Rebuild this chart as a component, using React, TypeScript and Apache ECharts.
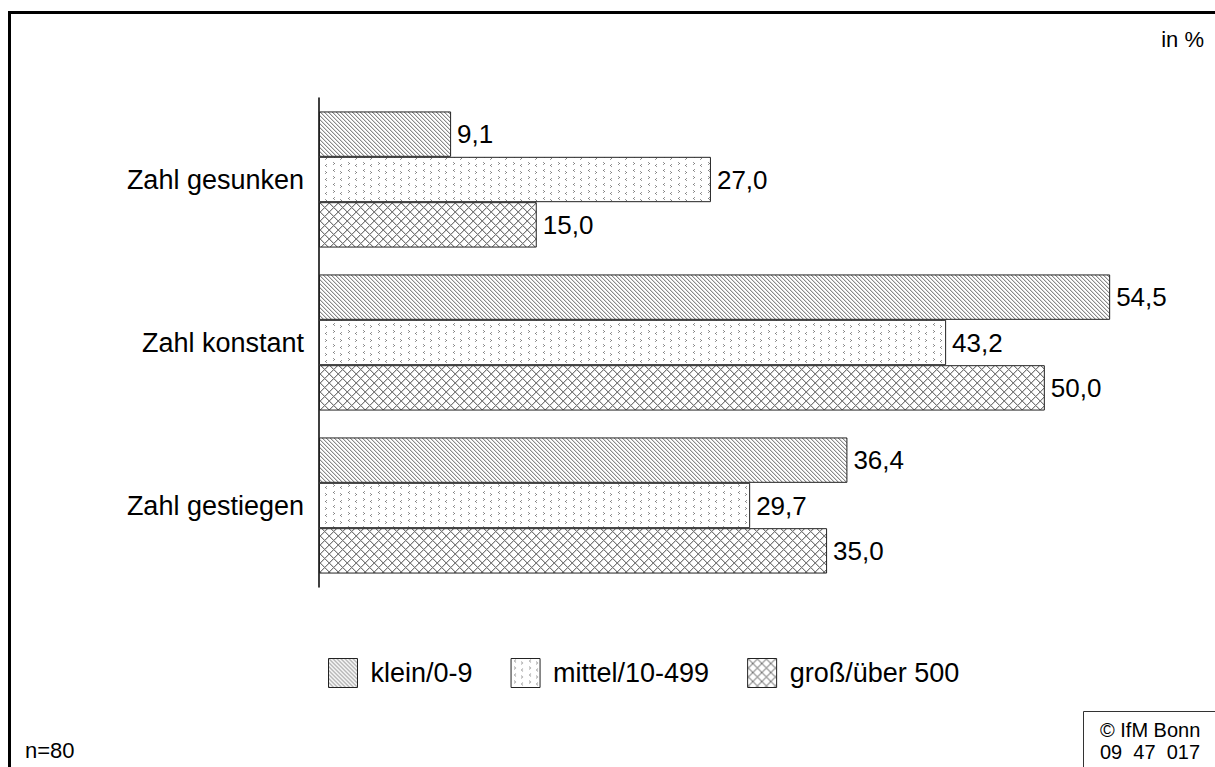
import React, { useEffect, useRef } from "react";
import * as echarts from "echarts";

const categories = ["Zahl gesunken", "Zahl konstant", "Zahl gestiegen"];
const seriesNames = ["klein/0-9", "mittel/10-499", "groß/über 500"];
const klein = [9.1, 54.5, 36.4];
const mittel = [27.0, 43.2, 29.7];
const gross = [15.0, 50.0, 35.0];

const FONT = "'Liberation Sans', Arial, sans-serif";

function makeTile(w: number, h: number, fn: (x: number, y: number) => string | null) {
  const c = document.createElement("canvas");
  c.width = w;
  c.height = h;
  const ctx = c.getContext("2d")!;
  ctx.fillStyle = "#ffffff";
  ctx.fillRect(0, 0, w, h);
  for (let y = 0; y < h; y++) {
    for (let x = 0; x < w; x++) {
      const col = fn(x, y);
      if (col) {
        ctx.fillStyle = col;
        ctx.fillRect(x, y, 1, 1);
      }
    }
  }
  return c;
}

export default function App() {
  const ref = useRef<HTMLDivElement>(null);
  useEffect(() => {
    if (!ref.current) return;
    const chart = echarts.init(ref.current, null, { renderer: "svg" });

    const diagTile = makeTile(8, 8, (x, y) => {
      const d = (((x - y) % 4) + 4) % 4;
      if (d === 0) return "#8a8a8a";
      if (d === 1) return "#d6d6d6";
      return null;
    });
    const chev: Array<[number, number, number]> = [
      [3, 2, -1],
      [11, 4, 1],
      [4, 9, 1],
      [10, 11, -1],
    ];
    const dotTile = makeTile(15, 14, (x, y) => {
      for (const [cx, cy, dir] of chev) {
        if (x === cx && y === cy) return "#7c7c7c";
        if (x === cx - dir && (y === cy - 1 || y === cy + 1)) return "#9a9a9a";
      }
      return null;
    });
    const crossTile = makeTile(9, 9, (x, y) => {
      const a = (x + y) % 9;
      const b = (((x - y) % 9) + 9) % 9;
      if (a === 0 || b === 0) return "#7a7a7a";
      if (a === 1 || b === 1) return "#cfcfcf";
      return null;
    });
    const pat = (c: HTMLCanvasElement) => ({
      image: c,
      repeat: "repeat",
      imageWidth: c.width,
      imageHeight: c.height,
    });
    const fills = [pat(diagTile), pat(dotTile), pat(crossTile)];
    const values = [klein, mittel, gross];

    const fmt = (p: any) => Number(p.value).toFixed(1).replace(".", ",");

    chart.setOption({
      animation: false,
      backgroundColor: "#ffffff",
      grid: { left: 319, top: 98, width: 871, height: 489, containLabel: false },
      xAxis: { type: "value", min: 0, max: 60, show: false },
      yAxis: {
        type: "category",
        data: categories,
        inverse: true,
        axisLine: { show: true, lineStyle: { color: "#000", width: 1.5 } },
        axisTick: { show: false },
        axisLabel: { color: "#000", fontSize: 27, fontFamily: FONT, margin: 15 },
      },
      legend: {
        left: 323,
        top: 653,
        itemWidth: 29,
        itemHeight: 29,
        itemGap: 38,
        icon: "rect",
        data: seriesNames,
        itemStyle: { borderColor: "#222", borderWidth: 1 },
        textStyle: { color: "#000", fontSize: 27, fontFamily: FONT, padding: [0, 0, 0, 8] },
      },
      series: seriesNames.map((name, i) => ({
        name,
        type: "bar",
        data: values[i],
        barGap: "0%",
        barCategoryGap: "16.5%",
        itemStyle: { color: fills[i], borderColor: "#222", borderWidth: 1 },
        label: {
          show: true,
          position: "right",
          distance: 6,
          color: "#000",
          fontSize: 26,
          fontFamily: FONT,
          formatter: fmt,
        },
      })),
      graphic: [
        { type: "rect", shape: { x: 8, y: 11, width: 1215, height: 3 }, style: { fill: "#000" } },
        { type: "rect", shape: { x: 8, y: 11, width: 3, height: 770 }, style: { fill: "#000" } },
        {
          type: "text",
          x: 1204,
          y: 39,
          style: { text: "in %", fill: "#000", font: `22px ${FONT}`, align: "right", verticalAlign: "middle" },
        },
        {
          type: "text",
          x: 25,
          y: 750,
          style: { text: "n=80", fill: "#000", font: `22px ${FONT}`, align: "left", verticalAlign: "middle" },
        },
        {
          type: "rect",
          shape: { x: 1083.5, y: 711.5, width: 200, height: 100 },
          style: { fill: "#fff", stroke: "#333", lineWidth: 1 },
        },
        {
          type: "text",
          x: 1100,
          y: 730,
          style: { text: "© IfM Bonn", fill: "#000", font: `20px ${FONT}`, align: "left", verticalAlign: "middle" },
        },
        {
          type: "text",
          x: 1100,
          y: 752,
          style: { text: "09  47  017", fill: "#000", font: `20px ${FONT}`, align: "left", verticalAlign: "middle" },
        },
      ],
    });
    return () => chart.dispose();
  }, []);
  return (
    <div
      ref={ref}
      style={{ position: "fixed", left: 0, top: 0, width: 1215, height: 767, background: "#fff" }}
    />
  );
}
